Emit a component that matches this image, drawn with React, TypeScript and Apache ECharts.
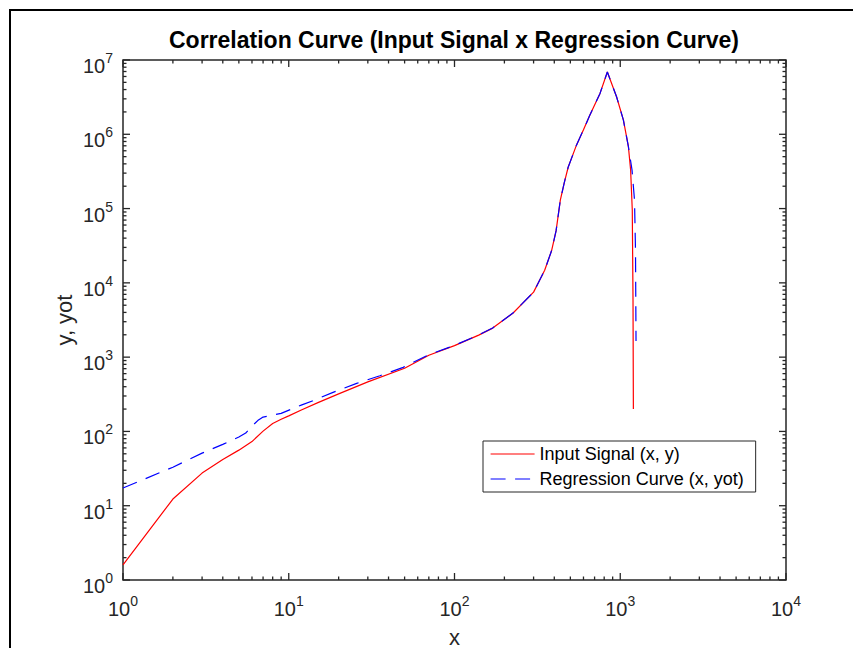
import React, { useEffect, useRef } from 'react';
import * as echarts from 'echarts';

const FONT = "'Liberation Sans', Arial, Helvetica, sans-serif";
const AXIS_COLOR = '#262626';

const TITLE = 'Correlation Curve (Input Signal x Regression Curve)';
const INPUT_NAME = 'Input Signal (x, y)';
const REG_NAME = 'Regression Curve (x, yot)';
const X_NAME = 'x';
const Y_NAME = 'y, yot';

// Input signal (red, solid)
const inputX = [1, 2, 3, 4, 5, 6, 7, 8, 9, 10, 12, 15, 20, 30, 50, 70, 100, 140, 170, 225, 300, 350, 385, 410, 435, 460, 485, 545, 600, 655, 755, 836, 950, 1045, 1120, 1155, 1182, 1194, 1200];
const inputY = [1.6, 12.3, 27.5, 42, 56, 73, 101, 128, 146, 162, 196, 244, 320, 465, 710, 1060, 1430, 1980, 2460, 3900, 7500, 14800, 27000, 50000, 1.3e5, 2.25e5, 3.6e5, 7.2e5, 1.15e6, 1.8e6, 3.55e6, 6.9e6, 3.2e6, 1.55e6, 6.8e5, 3.3e5, 9.5e4, 5900, 200];

// Regression curve (blue, dashed)
const regX = [1, 2, 3, 4, 5, 5.5, 6, 6.5, 7, 9, 12, 14, 18.5, 25.7, 35.5, 49, 70, 100, 140, 170, 225, 300, 350, 385, 410, 435, 460, 485, 545, 600, 655, 755, 836, 950, 1045, 1120, 1178, 1219, 1236, 1245];
const regY = [17.3, 33, 51, 67, 84, 95, 118, 140, 156, 175, 228, 259, 336, 444, 562, 729, 1080, 1440, 1990, 2470, 3920, 7500, 14800, 27000, 50000, 1.3e5, 2.25e5, 3.6e5, 7.2e5, 1.15e6, 1.8e6, 3.55e6, 6.9e6, 3.2e6, 1.55e6, 6.8e5, 3.3e5, 1.3e5, 2.76e4, 1650];

// Axis ranges / tick exponents
const X_MIN = 1;
const X_MAX = 1e4;
const Y_MIN = 1;
const Y_MAX = 1e7;
const xExponents = [0, 1, 2, 3, 4];
const yExponents = [0, 1, 2, 3, 4, 5, 6, 7];
const minorFactors = [2, 3, 4, 5, 6, 7, 8, 9];

function buildTicks(exps: number[]): [number, number][] {
  const out: [number, number][] = [];
  exps.forEach((e, i) => {
    out.push([Math.pow(10, e), 1]);
    if (i < exps.length - 1) {
      minorFactors.forEach((f) => out.push([f * Math.pow(10, e), 0]));
    }
  });
  return out;
}

const MAJOR_LEN = 7;
const MINOR_LEN = 3.5;

const labelFormatter = (v: number) => {
  const e = Math.round(Math.log10(v));
  return `{b|10}{s|${e}}`;
};

const richLabel = {
  b: { fontSize: 20, lineHeight: 30, fontFamily: FONT, color: AXIS_COLOR },
  s: { fontSize: 14, lineHeight: 14, fontFamily: FONT, color: AXIS_COLOR, verticalAlign: 'top' },
};

export default function App() {
  const ref = useRef<HTMLDivElement>(null);

  useEffect(() => {
    document.body.style.margin = '0';
    if (!ref.current) return;
    const chart = echarts.init(ref.current, null, { renderer: 'svg' });

    const xTicks = buildTicks(xExponents);
    const yTicks = buildTicks(yExponents);

    const option: any = {
      animation: false,
      backgroundColor: '#ffffff',
      textStyle: { fontFamily: FONT },
      grid: {
        left: 123,
        top: 60,
        width: 663,
        height: 520,
        show: true,
        borderColor: AXIS_COLOR,
        borderWidth: 1.5,
        backgroundColor: 'transparent',
        containLabel: false,
        outerBoundsMode: 'none',
      },
      legend: {
        orient: 'vertical',
        left: 483,
        top: 441,
        padding: [4, 12, 4, 7],
        itemGap: 7,
        itemWidth: 44,
        itemHeight: 20,
        backgroundColor: '#ffffff',
        borderColor: AXIS_COLOR,
        borderWidth: 1,
        borderRadius: 0,
        selectedMode: false,
        itemStyle: { opacity: 0, borderWidth: 0 },
        lineStyle: { width: 1.2 },
        textStyle: { fontSize: 18, color: '#000', fontFamily: FONT },
        data: [{ name: INPUT_NAME }, { name: REG_NAME }],
      },
      xAxis: {
        type: 'log',
        logBase: 10,
        min: X_MIN,
        max: X_MAX,
        splitNumber: 4,
        name: X_NAME,
        nameLocation: 'middle',
        nameGap: 46,
        nameMoveOverlap: false,
        nameTextStyle: { fontSize: 22, color: AXIS_COLOR, fontFamily: FONT },
        axisLine: { show: false },
        axisTick: { show: false },
        minorTick: { show: false },
        splitLine: { show: false },
        axisLabel: {
          formatter: labelFormatter,
          rich: richLabel,
          margin: 14,
          showMinLabel: true,
          showMaxLabel: true,
          hideOverlap: false,
        },
      },
      yAxis: {
        type: 'log',
        logBase: 10,
        min: Y_MIN,
        max: Y_MAX,
        splitNumber: 7,
        name: Y_NAME,
        nameLocation: 'middle',
        nameRotate: 90,
        nameGap: 48,
        nameMoveOverlap: false,
        nameTextStyle: { fontSize: 22, color: AXIS_COLOR, fontFamily: FONT },
        axisLine: { show: false },
        axisTick: { show: false },
        minorTick: { show: false },
        splitLine: { show: false },
        axisLabel: {
          formatter: labelFormatter,
          rich: richLabel,
          margin: 10,
          padding: [12, 0, 0, 0],
          showMinLabel: true,
          showMaxLabel: true,
          hideOverlap: false,
        },
      },
      series: [
        {
          name: INPUT_NAME,
          type: 'line',
          data: inputX.map((x, i) => [x, inputY[i]]),
          symbol: 'none',
          showSymbol: false,
          lineStyle: { color: '#ff0000', width: 1.2 },
          itemStyle: { color: '#ff0000' },
          z: 3,
        },
        {
          name: REG_NAME,
          type: 'line',
          data: regX.map((x, i) => [x, regY[i]]),
          symbol: 'none',
          showSymbol: false,
          lineStyle: { color: '#0000ff', width: 1.2, type: [15, 9.5] },
          itemStyle: { color: '#0000ff' },
          z: 4,
        },
        {
          type: 'custom',
          silent: true,
          clip: false,
          z: 5,
          data: xTicks.map(([v, major]) => [v, Y_MIN, major]),
          renderItem: (_params: any, api: any) => {
            const v = api.value(0);
            const len = api.value(2) ? MAJOR_LEN : MINOR_LEN;
            const b = api.coord([v, Y_MIN]);
            const t = api.coord([v, Y_MAX]);
            const st = { stroke: AXIS_COLOR, lineWidth: 1.3 };
            return {
              type: 'group',
              children: [
                { type: 'line', shape: { x1: b[0], y1: b[1], x2: b[0], y2: b[1] - len }, style: st },
                { type: 'line', shape: { x1: t[0], y1: t[1], x2: t[0], y2: t[1] + len }, style: st },
              ],
            };
          },
        },
        {
          type: 'custom',
          silent: true,
          clip: false,
          z: 5,
          data: yTicks.map(([v, major]) => [X_MIN, v, major]),
          renderItem: (_params: any, api: any) => {
            const v = api.value(1);
            const len = api.value(2) ? MAJOR_LEN : MINOR_LEN;
            const l = api.coord([X_MIN, v]);
            const r = api.coord([X_MAX, v]);
            const st = { stroke: AXIS_COLOR, lineWidth: 1.3 };
            return {
              type: 'group',
              children: [
                { type: 'line', shape: { x1: l[0], y1: l[1], x2: l[0] + len, y2: l[1] }, style: st },
                { type: 'line', shape: { x1: r[0], y1: r[1], x2: r[0] - len, y2: r[1] }, style: st },
              ],
            };
          },
        },
      ],
      graphic: [
        {
          type: 'rect',
          silent: true,
          z: 100,
          shape: { x: 10, y: 10, width: 1200, height: 1200 },
          style: { fill: 'none', stroke: '#000', lineWidth: 2 },
        },
        {
          type: 'text',
          silent: true,
          x: 454,
          y: 40,
          style: {
            text: TITLE,
            fontSize: 23,
            fontWeight: 'bold',
            fontFamily: FONT,
            fill: '#000',
            align: 'center',
            verticalAlign: 'middle',
            textAlign: 'center',
            textVerticalAlign: 'middle',
          },
        },
      ],
    };

    chart.setOption(option);
    return () => {
      chart.dispose();
    };
  }, []);

  return <div ref={ref} style={{ width: 853, height: 648 }} />;
}
